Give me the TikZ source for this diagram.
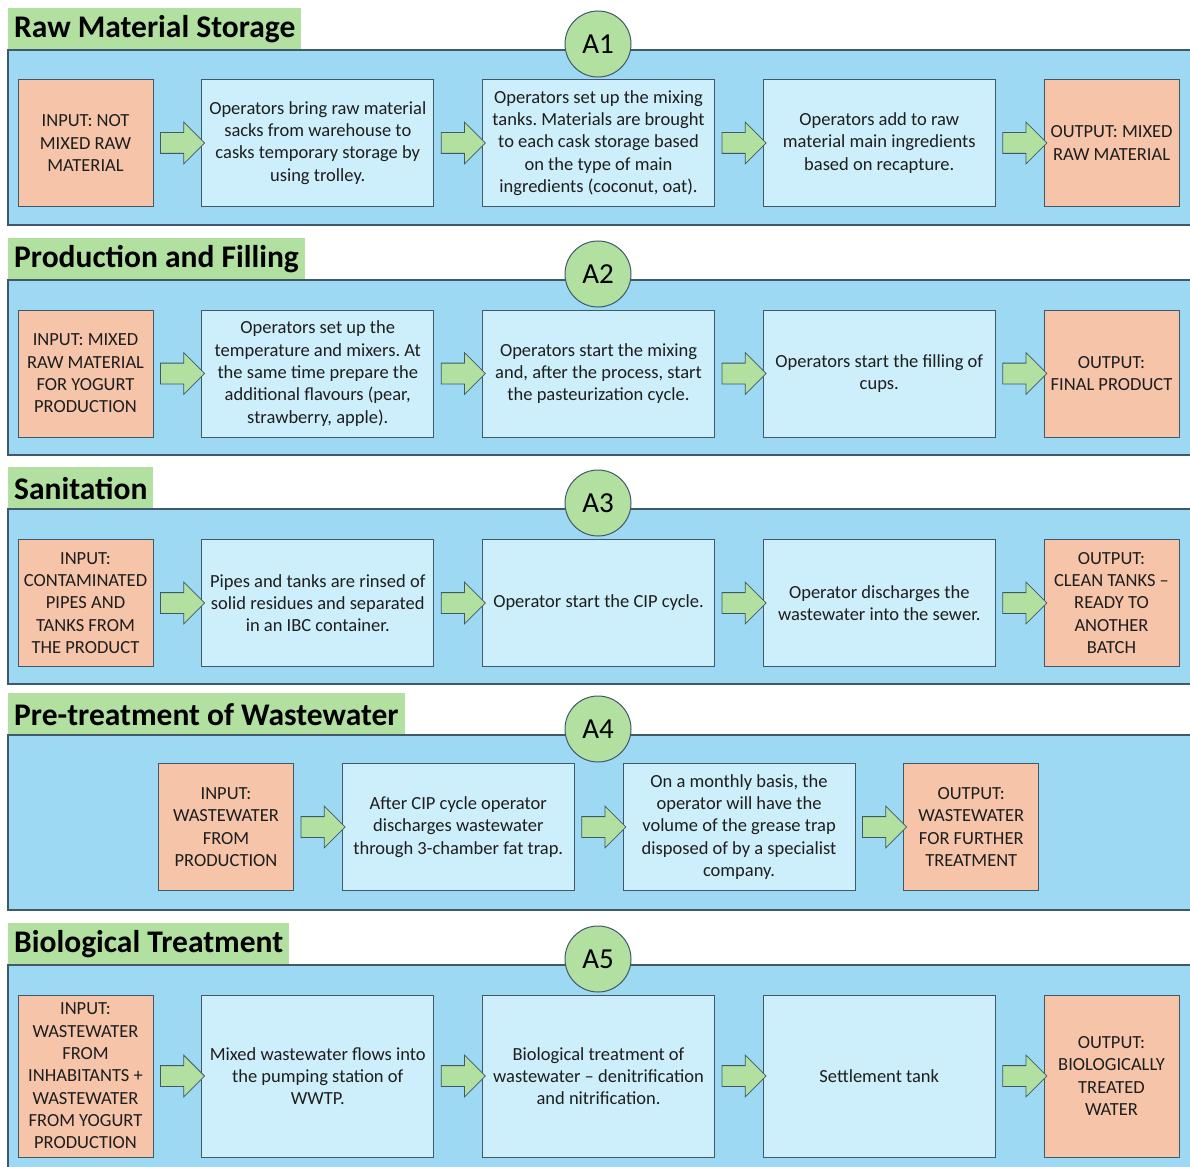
\documentclass[tikz,border=0pt]{standalone}
\usepackage{fontspec}
\setmainfont{Carlito}
\usepackage{xcolor,tikz}
\usetikzlibrary{positioning,shapes.arrows,calc}
\frenchspacing

\definecolor{panelblue}{HTML}{9DD9F3}
\definecolor{boxblue}{HTML}{CDEEFB}
\definecolor{salmon}{HTML}{F5C4A9}
\definecolor{leaf}{HTML}{B2E0A0}
\definecolor{edge}{HTML}{41586B}
\definecolor{ink}{HTML}{1E1E1E}

\tikzset{
  panel/.style={draw=edge,fill=panelblue,line width=1.2pt},
  bandtitle/.style={fill=leaf,anchor=north west,minimum height=42pt,inner xsep=6pt,
    font=\fontsize{31.5}{36}\selectfont\bfseries,text=black},
  badge/.style={circle,draw=edge,fill=leaf,minimum size=66pt,inner sep=0pt,
    font=\fontsize{29}{34}\selectfont,line width=1pt},
  basebox/.style={draw=edge,line width=1pt,align=center,text=ink,inner sep=2pt,
    minimum height=127pt,font=\fontsize{18.5}{22.3}\selectfont},
  inbox/.style={basebox,fill=salmon,minimum width=135pt},
  outbox/.style={inbox},
  stepbox/.style={basebox,fill=boxblue,minimum width=232pt},
  tallbox/.style={minimum height=162pt},
  blockarr/.style={single arrow,draw=edge,fill=leaf,inner xsep=0pt,inner ysep=10pt,
    minimum height=44pt,single arrow head extend=10.5pt,single arrow head indent=0pt,
    line width=.8pt},
}

\begin{document}
\begin{tikzpicture}[x=1pt,y=-1pt,node distance=47.75pt]
\useasboundingbox (0,0) rectangle (1190,1166);

% band titles
\node[bandtitle] (t1) at (8,8) {Raw Material Storage\hspace{4pt}};
\node[bandtitle] (t2) at (8,238) {Production and Filling\hspace{4pt}};
\node[bandtitle] (t3) at (8,467) {Sanitation\hspace{4pt}};
\node[bandtitle] (t4) at (8,693) {Pre-treatment of Wastewater\hspace{4pt}};
\node[bandtitle] (t5) at (8,923) {Biological Treatment\hspace{4pt}};

% blue panels
\foreach \y/\h in {50/175,280/175,509/175,735/175,965/205}
  \draw[panel] (8,\y) rectangle (1196,\y+\h);

\foreach \y/\n in {50/1,280/2,509/3,735/4,965/5}
  \node[badge] (a\n) at (598,\y-6) {A\n};

% A1
\node[inbox] (in1) at (85.5,143) {INPUT: NOT\\MIXED RAW\\MATERIAL};
\node[stepbox,right=of in1] (s1a) {Operators bring raw material\\sacks from warehouse to\\casks temporary storage by\\using trolley.};
\node[stepbox,right=of s1a] (s1b) {Operators set up the mixing\\tanks. Materials are brought\\to each cask storage based\\on the type of main\\ingredients (coconut, oat).};
\node[stepbox,right=of s1b] (s1c) {Operators add to raw\\material main ingredients\\based on recapture.};
\node[outbox,right=of s1c] (out1) {OUTPUT: MIXED\\RAW MATERIAL};

% A2
\node[inbox] (in2) at (85.5,373.5) {INPUT: MIXED\\RAW MATERIAL\\FOR YOGURT\\PRODUCTION};
\node[stepbox,right=of in2] (s2a) {Operators set up the\\temperature and mixers. At\\the same time prepare the\\additional flavours (pear,\\strawberry, apple).};
\node[stepbox,right=of s2a] (s2b) {Operators start the mixing\\and, after the process, start\\the pasteurization cycle.};
\node[stepbox,right=of s2b] (s2c) {Operators start the filling of\\cups.};
\node[outbox,right=of s2c] (out2) {OUTPUT:\\FINAL PRODUCT};

% A3
\node[inbox] (in3) at (85.5,603) {INPUT:\\CONTAMINATED\\PIPES AND\\TANKS FROM\\THE PRODUCT};
\node[stepbox,right=of in3] (s3a) {Pipes and tanks are rinsed of\\solid residues and separated\\in an IBC container.};
\node[stepbox,right=of s3a] (s3b) {Operator start the CIP cycle.};
\node[stepbox,right=of s3b] (s3c) {Operator discharges the\\wastewater into the sewer.};
\node[outbox,right=of s3c] (out3) {OUTPUT:\\CLEAN TANKS --\\READY TO\\ANOTHER\\BATCH};

% A4
\node[inbox] (in4) at (226,827) {INPUT:\\WASTEWATER\\FROM\\PRODUCTION};
\node[stepbox,right=of in4] (s4a) {After CIP cycle operator\\discharges wastewater\\through 3-chamber fat trap.};
\node[stepbox,right=of s4a] (s4b) {On a monthly basis, the\\operator will have the\\volume of the grease trap\\disposed of by a specialist\\company.};
\node[outbox,right=of s4b] (out4) {OUTPUT:\\WASTEWATER\\FOR FURTHER\\TREATMENT};

% A5
\node[inbox,tallbox] (in5) at (85.5,1076) {INPUT:\\WASTEWATER\\FROM\\INHABITANTS +\\WASTEWATER\\FROM YOGURT\\PRODUCTION};
\node[stepbox,tallbox,right=of in5] (s5a) {Mixed wastewater flows into\\the pumping station of\\WWTP.};
\node[stepbox,tallbox,right=of s5a] (s5b) {Biological treatment of\\wastewater -- denitrification\\and nitrification.};
\node[stepbox,tallbox,right=of s5b] (s5c) {Settlement tank};
\node[outbox,tallbox,right=of s5c] (out5) {OUTPUT:\\BIOLOGICALLY\\TREATED\\WATER};

% block arrows
\foreach \a/\b in {in1/s1a,s1a/s1b,s1b/s1c,s1c/out1,
                   in2/s2a,s2a/s2b,s2b/s2c,s2c/out2,
                   in3/s3a,s3a/s3b,s3b/s3c,s3c/out3,
                   in4/s4a,s4a/s4b,s4b/out4,
                   in5/s5a,s5a/s5b,s5b/s5c,s5c/out5}
  \node[blockarr] (arr-\a) at ($(\a.east)!.5!(\b.west)$) {};
\end{tikzpicture}
\end{document}
